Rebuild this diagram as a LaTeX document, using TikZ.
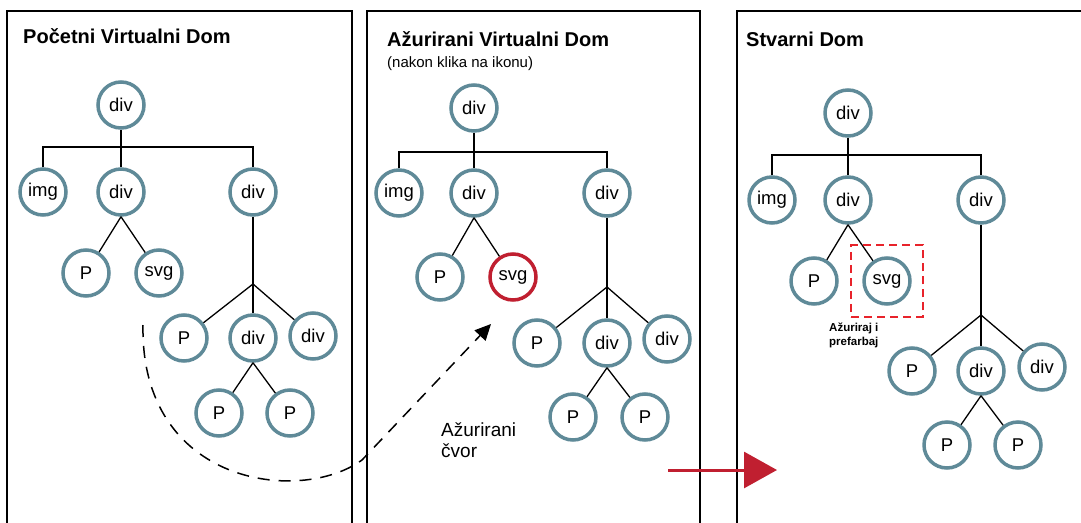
\documentclass[tikz,border=0pt]{standalone}
\usepackage{fontspec}
\setmainfont{Liberation Sans}
\usepackage{xcolor}
\usepackage{tikz}
\usetikzlibrary{arrows.meta, positioning, fit}

\definecolor{nodeblue}{HTML}{5F8A98}
\definecolor{domred}{HTML}{C01F30}
\definecolor{boxred}{HTML}{E8232B}

\begin{document}
\begin{tikzpicture}[
    x=1pt, y=-1pt,
    panel/.style={line width=1.5pt},
    title/.style={anchor=base west, inner sep=0pt, font=\fontsize{20}{24}\selectfont\bfseries},
    vnode/.style={circle, draw=nodeblue, fill=white, line width=3.5pt, minimum size=46pt, inner sep=0pt, font=\fontsize{18.5}{20}\selectfont},
    changed/.style={vnode, draw=domred},
    link/.style={line width=1.3pt},
    diffarrow/.style={line width=1.5pt, dash pattern=on 12pt off 9pt, -{Triangle[length=16pt, width=15pt]}},
    patcharrow/.style={line width=3pt, draw=domred, -{Triangle[length=33pt, width=36pt, fill=domred]}},
    patchbox/.style={draw=boxred, line width=1.8pt, dash pattern=on 8pt off 5pt, inner sep=11pt}
]
    \useasboundingbox (0,0) rectangle (1081,522);
    \clip (0,0) rectangle (1081,522);

    % panels
    \draw[panel] (7,535) |- (352,11) -- (352,535);
    \draw[panel] (367,535) |- (700,11) -- (700,535);
    \draw[panel] (737,535) |- (1090,11);

    \node[title] (tOld) at (23,43) {Početni Virtualni Dom};
    \node[title] (tNew) at (387,46) {Ažurirani Virtualni Dom};
    \node[anchor=base west, inner sep=0pt, font=\fontsize{15}{18}\selectfont] (tSub) at (387,67) {(nakon klika na ikonu)};
    \node[title] (tReal) at (746,46) {Stvarni Dom};

    % initial virtual dom
    \begin{scope}[shift={(121,105)}]
        \node[vnode] (aRoot) at (0,0) {div};
        \coordinate (aBar) at (0,42);
        \node[vnode] (aImg) at (-78,87) {img};
        \node[vnode] (aDiv) at (0,87) {div};
        \node[vnode] (aDivR) at (132,87) {div};
        \node[vnode] (aP) at (-35,168) {P};
        \node[vnode] (aSvg) at (38,168) {svg};
        \coordinate (aJct) at (132,179);
        \node[vnode] (aP2) at (63,233) {P};
        \node[vnode] (aDiv2) at (132,233) {div};
        \node[vnode] (aDiv3) at (192,231) {div};
        \node[vnode] (aP3) at (98,308) {P};
        \node[vnode] (aP4) at (169,308) {P};
    \end{scope}
    \draw[link] (aRoot) -- (aBar);
    \draw[link] (aImg.north) |- (aBar) -| (aDivR.north);
    \draw[link] (aBar) -- (aDiv);
    \draw[link] (aDiv.south) -- (aP);
    \draw[link] (aDiv.south) -- (aSvg);
    \draw[link] (aDivR) -- (aJct);
    \draw[link] (aJct) -- (aP2);
    \draw[link] (aJct) -- (aDiv2);
    \draw[link] (aJct) -- (aDiv3);
    \draw[link] (aDiv2.south) -- (aP3);
    \draw[link] (aDiv2.south) -- (aP4);

    % updated virtual dom
    \begin{scope}[shift={(474,108)}]
        \node[vnode] (bRoot) at (0,0) {div};
        \coordinate (bBar) at (0,44);
        \node[vnode] (bImg) at (-75,85) {img};
        \node[vnode] (bDiv) at (0,85) {div};
        \node[vnode] (bDivR) at (133,85) {div};
        \node[vnode] (bP) at (-34,169) {P};
        \node[changed] (bSvg) at (39,169) {svg};
        \coordinate (bJct) at (133,179);
        \node[vnode] (bP2) at (63,235) {P};
        \node[vnode] (bDiv2) at (133,235) {div};
        \node[vnode] (bDiv3) at (193,231) {div};
        \node[vnode] (bP3) at (99,309) {P};
        \node[vnode] (bP4) at (171,309) {P};
    \end{scope}
    \draw[link] (bRoot) -- (bBar);
    \draw[link] (bImg.north) |- (bBar) -| (bDivR.north);
    \draw[link] (bBar) -- (bDiv);
    \draw[link] (bDiv.south) -- (bP);
    \draw[link] (bDiv.south) -- (bSvg);
    \draw[link] (bDivR) -- (bJct);
    \draw[link] (bJct) -- (bP2);
    \draw[link] (bJct) -- (bDiv2);
    \draw[link] (bJct) -- (bDiv3);
    \draw[link] (bDiv2.south) -- (bP3);
    \draw[link] (bDiv2.south) -- (bP4);

    % real dom
    \begin{scope}[shift={(848,113)}]
        \node[vnode] (cRoot) at (0,0) {div};
        \coordinate (cBar) at (0,42);
        \node[vnode] (cImg) at (-76,87) {img};
        \node[vnode] (cDiv) at (0,87) {div};
        \node[vnode] (cDivR) at (133,87) {div};
        \node[vnode] (cP) at (-34,168) {P};
        \node[vnode] (cSvg) at (39,168) {svg};
        \coordinate (cJct) at (133,202);
        \node[vnode] (cP2) at (64,258) {P};
        \node[vnode] (cDiv2) at (133,258) {div};
        \node[vnode] (cDiv3) at (194,254) {div};
        \node[vnode] (cP3) at (99,332) {P};
        \node[vnode] (cP4) at (170,332) {P};
    \end{scope}
    \draw[link] (cRoot) -- (cBar);
    \draw[link] (cImg.north) |- (cBar) -| (cDivR.north);
    \draw[link] (cBar) -- (cDiv);
    \draw[link] (cDiv.south) -- (cP);
    \draw[link] (cDiv.south) -- (cSvg);
    \draw[link] (cDivR) -- (cJct);
    \draw[link] (cJct) -- (cP2);
    \draw[link] (cJct) -- (cDiv2);
    \draw[link] (cJct) -- (cDiv3);
    \draw[link] (cDiv2.south) -- (cP3);
    \draw[link] (cDiv2.south) -- (cP4);

    \node[patchbox, fit=(cSvg)] (cBox) {};
    \node[anchor=north west, inner sep=0pt, align=left, font=\fontsize{11.5}{14}\selectfont\bfseries] (cNote) at (829,323) {Ažuriraj i\\prefarbaj};

    % diff and patch
    \coordinate (arcStart) at (143,325);
    \coordinate (arcBend) at (362,460);
    \coordinate (arcEnd) at (491,324);
    \draw[diffarrow] (arcStart) .. controls (140,485) and (300,505) .. (arcBend) -- (arcEnd);
    \node[anchor=north west, inner sep=0pt, align=left, font=\fontsize{19}{21}\selectfont] (diffNote) at (441,422) {Ažurirani\\čvor};

    \coordinate (patchStart) at (668,470);
    \coordinate (patchEnd) at (777,470);
    \draw[patcharrow] (patchStart) -- (patchEnd);
\end{tikzpicture}
\end{document}
